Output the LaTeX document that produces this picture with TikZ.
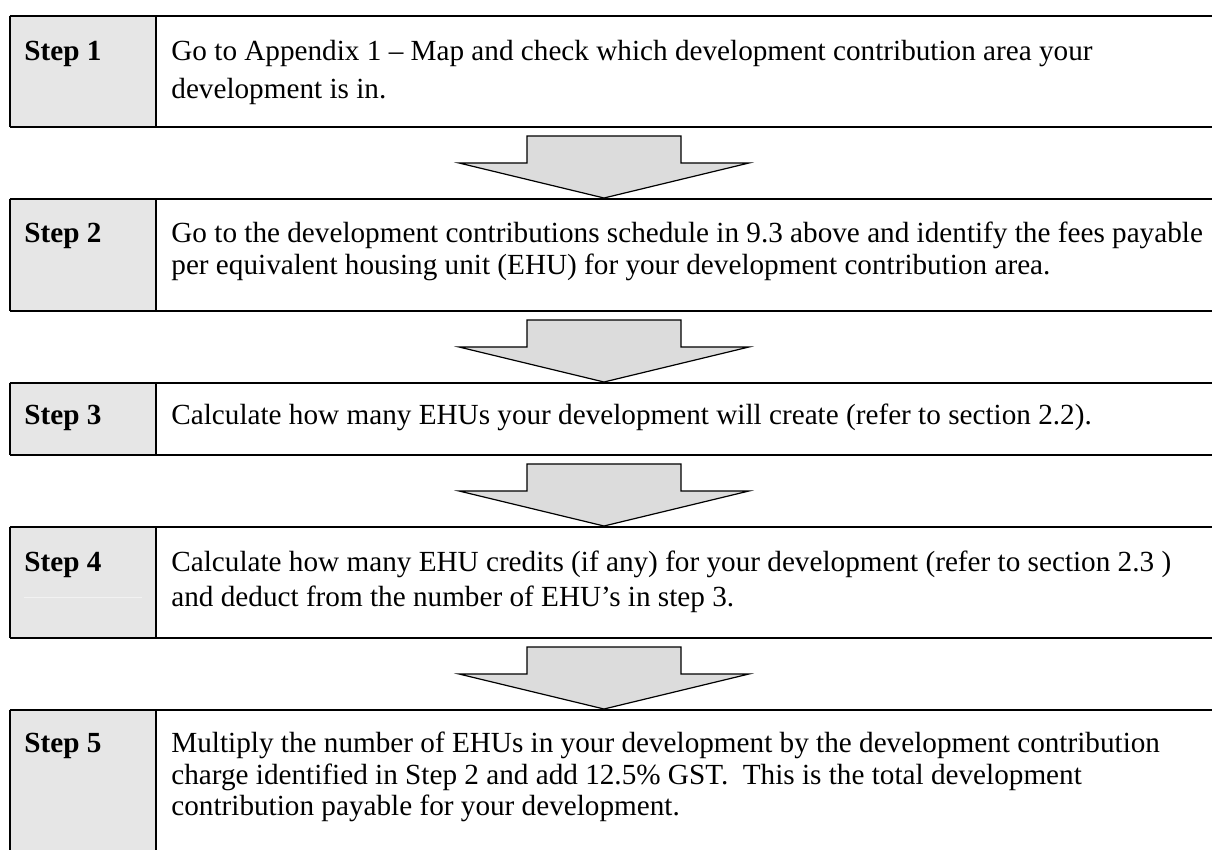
\documentclass[tikz,border=0pt]{standalone}
\usepackage{fontspec}
\setmainfont{Liberation Serif}
\definecolor{cellgrey}{HTML}{E6E6E6}
\definecolor{arrowgrey}{HTML}{DCDCDC}
\definecolor{faintline}{HTML}{F2F2F2}
\tikzset{
  celltext/.style={anchor=base west, inner sep=0pt, font=\fontsize{14.6}{17}\selectfont},
  steplabel/.style={anchor=base west, inner sep=0pt, font=\bfseries\fontsize{14.6}{17}\selectfont},
  rowline/.style={draw=black, line width=1pt},
  bigarrow/.style={fill=arrowgrey, draw=black, line width=0.6pt, line join=miter},
}
\newcommand{\tablerow}[2]{%
  \fill[cellgrey] (10,#1) rectangle (156,#2);
  \draw[rowline] (9.5,#1) -- (1230,#1);
  \draw[rowline] (9.5,#2) -- (1230,#2);
  \draw[rowline] (10,#1) -- (10,#2);
  \draw[rowline] (156,#1) -- (156,#2);
}
\newcommand{\blockarrow}[4]{%
  % #1 name, #2 shaft top, #3 head base, #4 tip
  \draw[bigarrow] (527,#2) -- (681,#2) -- (681,#3) -- (749,#3) -- (604,#4)
     -- (459,#3) -- (527,#3) -- cycle;
  \coordinate (#1) at (604,#4);
}
\begin{document}
\begin{tikzpicture}[x=0.5pt,y=-0.5pt]
\path[clip,use as bounding box] (0,0) rectangle (1212,850);
\fill[white] (0,0) rectangle (1212,850);

% rows
\tablerow{16}{127}
\tablerow{199}{311}
\tablerow{383}{455}
\tablerow{527}{638}
\tablerow{710}{880}
\draw[faintline, line width=0.5pt] (24,598) -- (142,598);

% arrows between rows
\blockarrow{a1}{136}{163}{198}
\blockarrow{a2}{320}{347}{382}
\blockarrow{a3}{464}{491}{526}
\blockarrow{a4}{647}{674}{709}

% Step 1
\node[steplabel] (s1) at (24,60.5) {Step 1};
\node[celltext] (t1a) at (171,60.5) {Go to Appendix 1 – Map and check which development contribution area your};
\node[celltext] (t1b) at (171,98.5) {development is in.};

% Step 2
\node[steplabel] (s2) at (24,243) {Step 2};
\node[celltext] (t2a) at (171,243) {Go to the development contributions schedule in 9.3 above and identify the fees payable};
\node[celltext] (t2b) at (171,274.5) {per equivalent housing unit (EHU) for your development contribution area.};

% Step 3
\node[steplabel] (s3) at (24,425) {Step 3};
\node[celltext] (t3a) at (171,425) {Calculate how many EHUs your development will create (refer to section 2.2).};

% Step 4
\node[steplabel] (s4) at (24,572) {Step 4};
\node[celltext] (t4a) at (171,572) {Calculate how many EHU credits (if any) for your development (refer to section 2.3 )};
\node[celltext] (t4b) at (171,607) {and deduct from the number of EHU's in step 3.};

% Step 5
\node[steplabel] (s5) at (24,752.5) {Step 5};
\node[celltext] (t5a) at (171,752.5) {Multiply the number of EHUs in your development by the development contribution};
\node[celltext] (t5b) at (171,784) {charge identified in Step 2 and add 12.5\% GST.\ \ This is the total development};
\node[celltext] (t5c) at (171,815.5) {contribution payable for your development.};
\end{tikzpicture}
\end{document}
